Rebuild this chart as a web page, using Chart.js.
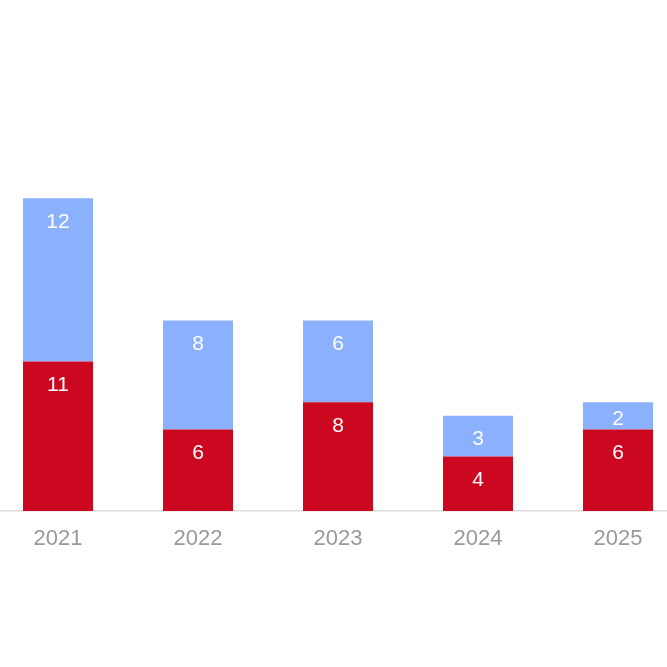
<!DOCTYPE html>
<html>
<head>
<meta charset="utf-8">
<script src="https://cdn.jsdelivr.net/npm/chart.js@4/dist/chart.umd.min.js"></script>
<style>
  html, body { margin: 0; padding: 0; background: #fff; overflow: hidden; }
  #wrap { position: absolute; left: -12px; top: 0; width: 700px; height: 667px; }
</style>
</head>
<body>
<div id="wrap"><canvas id="chart"></canvas></div>
<script>
  const years = ['2021', '2022', '2023', '2024', '2025'];
  const bottomValues = [11, 6, 8, 4, 6];
  const topValues = [12, 8, 6, 3, 2];

  const RED = '#cc0820';
  const BLUE = '#8bb0fd';

  // white value labels inside each segment, near the top (centered when small)
  const segmentLabels = {
    id: 'segmentLabels',
    afterDatasetsDraw(chart) {
      const ctx = chart.ctx;
      ctx.save();
      ctx.fillStyle = '#ffffff';
      ctx.font = '21px "Liberation Sans", Arial, sans-serif';
      ctx.textAlign = 'center';
      ctx.textBaseline = 'middle';
      chart.data.datasets.forEach((ds, i) => {
        const meta = chart.getDatasetMeta(i);
        meta.data.forEach((bar, j) => {
          const top = Math.min(bar.y, bar.base);
          const bottom = Math.max(bar.y, bar.base);
          const y = Math.min(top + 24, (top + bottom) / 2 + 3);
          ctx.fillText(String(ds.data[j]), bar.x, y);
        });
      });
      ctx.restore();
    }
  };

  new Chart(document.getElementById('chart'), {
    type: 'bar',
    data: {
      labels: years,
      datasets: [
        { data: bottomValues, backgroundColor: RED, borderWidth: 0 },
        { data: topValues, backgroundColor: BLUE, borderWidth: 0 }
      ]
    },
    options: {
      responsive: true,
      maintainAspectRatio: false,
      animation: false,
      layout: { padding: { top: 103, left: 0, right: 0, bottom: 0 } },
      datasets: { bar: { barPercentage: 0.5, categoryPercentage: 1.0 } },
      plugins: { legend: { display: false }, tooltip: { enabled: false } },
      scales: {
        x: {
          stacked: true,
          grid: { display: false },
          border: { display: true, color: '#dddddd', width: 1.5 },
          ticks: {
            color: '#999999',
            padding: 7,
            font: { family: '"Liberation Sans", Arial, sans-serif', size: 22 }
          },
          afterFit(scale) { scale.height = 156; }
        },
        y: {
          stacked: true,
          display: false,
          min: 0,
          max: 30
        }
      }
    },
    plugins: [segmentLabels]
  });
</script>
</body>
</html>
